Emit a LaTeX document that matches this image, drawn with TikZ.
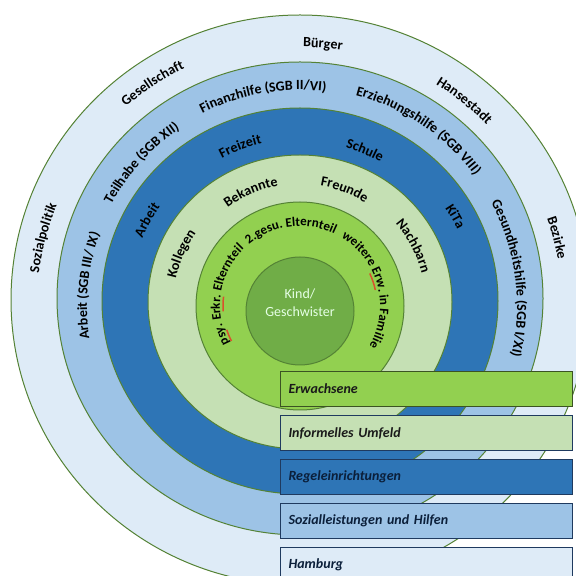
\documentclass[tikz,border=0pt]{standalone}
\usepackage{fontspec}
\setmainfont{Carlito}
\usetikzlibrary{positioning,decorations.text}

\definecolor{hhblue}{HTML}{DEEBF7}
\definecolor{sozblue}{HTML}{9DC3E6}
\definecolor{regblue}{HTML}{2E75B6}
\definecolor{infgreen}{HTML}{C5E0B4}
\definecolor{erwgreen}{HTML}{92D050}
\definecolor{kindgreen}{HTML}{70AD47}
\definecolor{ringline}{HTML}{548235}
\definecolor{erwline}{HTML}{3B5323}
\definecolor{boxline}{HTML}{1F3A5F}
\definecolor{labeltext}{HTML}{1A1A1A}
\definecolor{regtext}{HTML}{0B1F3A}
\definecolor{squiggle}{HTML}{D9512C}

\newcommand{\labelfont}{\bfseries\fontsize{14}{14}\selectfont}
\newcommand{\innerfont}{\bfseries\fontsize{13}{13}\selectfont}

\begin{document}
\begin{tikzpicture}[x=1pt,y=1pt,>=latex,
	ring/.style={draw=ringline, line width=1pt},
	ringlabel/.style={decorate, color=labeltext,
		decoration={text along path, text align=center,
			text={|\labelfont|#1}}},
	innerlabel/.style={decorate, color=labeltext,
		decoration={text along path, text align=center,
			text={|\innerfont|#1}}},
	legend/.style={draw=#1, line width=1pt, minimum height=35pt,
		text width=276pt, inner xsep=8pt, align=left,
		font=\bfseries\itshape\fontsize{14}{14}\selectfont},
	node distance=8pt]
	\useasboundingbox (0,0) rectangle (576,576);
	\coordinate (c) at (300,270);

	% rings, from the outside in
	\draw[ring, fill=hhblue] (300,276) ellipse[x radius=289, y radius=285];
	\draw[ring, fill=sozblue] (300,277.5) ellipse[x radius=243, y radius=236.5];
	\draw[ring, fill=regblue] (300,275) ellipse[x radius=198, y radius=193];
	\draw[ring, fill=infgreen] (300,274) ellipse[x radius=152, y radius=147];
	\draw[ring, fill=erwgreen] (300,270) circle[radius=104];
	\node[circle, draw=ringline, line width=1pt, fill=kindgreen,
		  minimum size=108pt, inner sep=0pt] (kind) at (300,265) {};
	\node[align=center, text=green!10!white, font=\fontsize{14}{18}\selectfont]
		  (kindtext) at ([yshift=8pt]kind.center) {Kind/\\Geschwister};

	\begin{scope}[shift={(c)}]
		% Hamburg
		\path[ringlabel=Bürger] (175:259) arc[start angle=175, end angle=-5, radius=259];
		\path[ringlabel=Gesellschaft] (213.5:264.5) arc[start angle=213.5, end angle=33.5, radius=264.5];
		\path[ringlabel=Hansestadt] (141.3:260) arc[start angle=141.3, end angle=-38.7, radius=260];
		\path[ringlabel=Sozialpolitik] (255.2:263) arc[start angle=255.2, end angle=75.2, radius=263];
		\path[ringlabel=Bezirke] (104.8:262) arc[start angle=104.8, end angle=-75.2, radius=262];
		% Sozialleistungen und Hilfen
		\path[ringlabel={Finanzhilfe (SGB II/VI)}] (190:216) arc[start angle=190, end angle=10, radius=216];
		\path[ringlabel={Erziehungshilfe (SGB VIII)}] (146:218) arc[start angle=146, end angle=-34, radius=218];
		\path[ringlabel={Teilhabe (SGB XII)}] (228:214) arc[start angle=228, end angle=48, radius=214];
		\path[ringlabel={Arbeit (SGB III/ IX)}] (264.5:213) arc[start angle=264.5, end angle=84.5, radius=213];
		\path[ringlabel={Gesundheitshilfe (SGB I/XI)}] (97.5:217) arc[start angle=97.5, end angle=-82.5, radius=217];
		% Regeleinrichtungen
		\path[ringlabel=Freizeit, color=regtext] (200.5:167) arc[start angle=200.5, end angle=20.5, radius=167];
		\path[ringlabel=Schule, color=regtext] (157.4:165) arc[start angle=157.4, end angle=-22.6, radius=165];
		\path[ringlabel=Arbeit, color=regtext] (240.7:171.5) arc[start angle=240.7, end angle=60.7, radius=171.5];
		\path[ringlabel=KiTa, color=regtext] (119.9:175) arc[start angle=119.9, end angle=-60.1, radius=175];
		% informelles Umfeld
		\path[ringlabel=Bekannte] (203.3:122) arc[start angle=203.3, end angle=23.3, radius=122];
		\path[ringlabel=Freunde] (159.1:122) arc[start angle=159.1, end angle=-20.9, radius=122];
		\path[ringlabel=Kollegen] (246.2:127) arc[start angle=246.2, end angle=66.2, radius=127];
		\path[ringlabel=Nachbarn] (117.9:126) arc[start angle=117.9, end angle=-62.1, radius=126];
		% Erwachsene
		\path[innerlabel={2.gesu. Elternteil}] (187:80) arc[start angle=187, end angle=7, radius=80];
		\path[innerlabel={weitere Erw. in Familie}] (104.5:80) arc[start angle=104.5, end angle=-75.5, radius=80];
		\path[innerlabel={psy. Erkr. Elternteil}] (261:80) arc[start angle=261, end angle=81, radius=80];
		% spell check marks
		\draw[squiggle, line width=1.5pt] (207:77) arc[start angle=207, end angle=198, radius=77];
		\draw[squiggle, line width=1.5pt] (184:77) arc[start angle=184, end angle=173, radius=77];
		\draw[squiggle, line width=1.5pt] (25:77) arc[start angle=25, end angle=12, radius=77];
	\end{scope}

	% legend
	\node[legend=erwline, fill=erwgreen, text=labeltext, anchor=north west] (erw) at (280,205) {Erwachsene};
	\node[legend=boxline, fill=infgreen, text=labeltext, below=of erw] (inf) {Informelles Umfeld};
	\node[legend=boxline, fill=regblue, text=regtext, below=of inf] (reg) {Regeleinrichtungen};
	\node[legend=boxline, fill=sozblue, text=regtext, below=of reg] (soz) {Sozialleistungen und Hilfen};
	\node[legend=boxline, fill=hhblue, text=regtext, below=of soz] (hh) {Hamburg};
\end{tikzpicture}
\end{document}
